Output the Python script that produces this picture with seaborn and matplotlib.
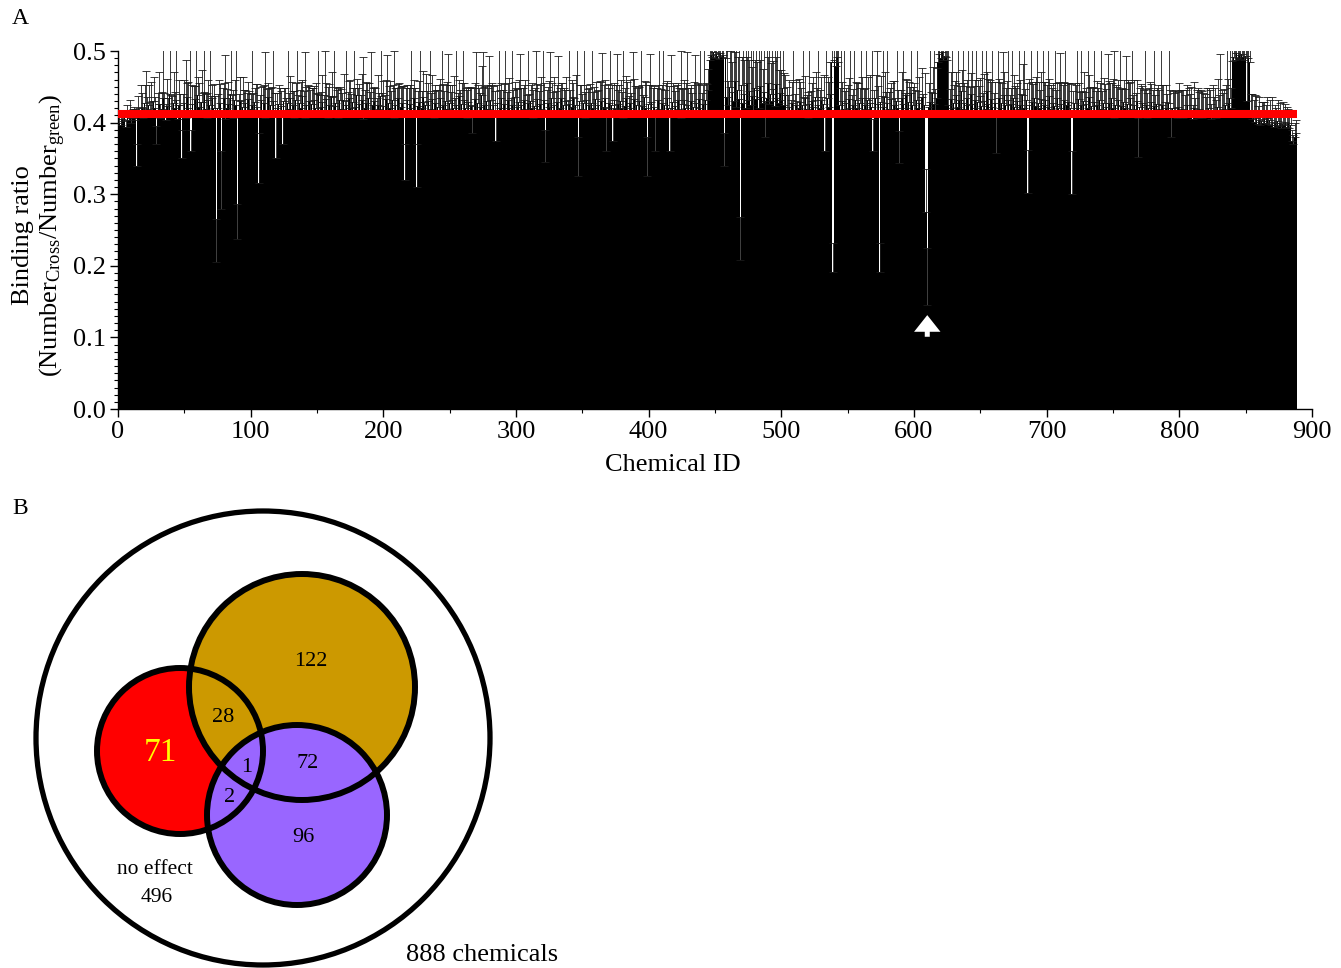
import matplotlib; matplotlib.use('Agg')
import numpy as np
import pandas as pd
import matplotlib.pyplot as plt
from matplotlib.patches import Circle
from matplotlib.ticker import MultipleLocator, FormatStrFormatter
import seaborn as sns

# binding ratio per chemical (x1000), ids 1..888
ratio_k = [
    400, 396, 405, 402, 408, 394, 410, 404, 414, 400, 406, 412, 403, 340, 415, 409, 418, 422, 407, 428, 412, 419, 424, 408,
    417, 410, 430, 421, 370, 414, 426, 407, 419, 435, 411, 404, 423, 417, 440, 412, 408, 428, 420, 432, 405, 424, 412, 350,
    418, 428, 407, 436, 420, 413, 360, 426, 410, 433, 418, 439, 422, 409, 429, 415, 443, 419, 406, 431, 424, 412, 435, 420,
    409, 205, 421, 416, 428, 280, 414, 434, 405, 420, 426, 411, 440, 418, 407, 431, 424, 237, 415, 430, 410, 422, 417, 427,
    412, 433, 408, 419, 425, 414, 429, 409, 422, 315, 416, 432, 411, 427, 406, 418, 436, 413, 424, 409, 430, 416, 350, 420,
    426, 411, 423, 370, 430, 415, 408, 428, 419, 434, 412, 424, 407, 431, 417, 411, 427, 421, 437, 414, 406, 425, 418, 430,
    413, 426, 409, 432, 420, 416, 440, 408, 422, 429, 412, 418, 433, 406, 425, 417, 436, 411, 423, 428, 415, 407, 431, 419,
    417, 431, 409, 425, 414, 435, 420, 408, 429, 416, 422, 439, 410, 426, 418, 432, 405, 421, 427, 413, 434, 416, 409, 424,
    430, 415, 408, 425, 419, 437, 412, 423, 416, 433, 409, 427, 420, 414, 431, 407, 424, 417, 435, 411, 422, 428, 415, 320,
    418, 431, 410, 426, 421, 408, 434, 415, 310, 423, 429, 413, 420, 436, 409, 425, 416, 430, 414, 419, 433, 407, 427, 415,
    422, 411, 435, 417, 425, 409, 430, 419, 414, 428, 412, 432, 420, 408, 424, 416, 437, 410, 426, 415, 431, 421, 406, 429,
    413, 423, 385, 418, 433, 411, 427, 416, 422, 438, 408, 425, 414, 430, 419, 409, 432, 417, 424, 412, 375, 428, 415, 420,
    434, 410, 426, 418, 413, 431, 420, 408, 424, 416, 436, 412, 422, 429, 409, 425, 415, 432, 419, 411, 427, 414, 430, 421,
    407, 423, 417, 433, 412, 426, 419, 409, 431, 345, 415, 428, 422, 411, 435, 417, 425, 413, 429, 408, 420, 434, 414, 424,
    418, 430, 410, 426, 416, 422, 436, 409, 425, 414, 325, 430, 419, 412, 427, 406, 432, 417, 424, 411, 428, 421, 415, 433,
    408, 425, 418, 430, 413, 422, 435, 360, 416, 427, 411, 424, 375, 431, 419, 409, 426, 415, 430, 420, 407, 423, 434, 417,
    412, 428, 421, 410, 433, 416, 425, 408, 430, 418, 423, 413, 436, 420, 325, 426, 411, 429, 415, 422, 360, 409, 431, 419,
    414, 427, 411, 424, 417, 434, 421, 360, 409, 429, 416, 423, 412, 431, 419, 407, 426, 415, 432, 420, 410, 425, 418, 430,
    413, 422, 408, 428, 416, 433, 420, 411, 426, 415, 431, 418, 445, 488, 495, 492, 498, 490, 496, 493, 489, 497, 491, 494,
    340, 490, 436, 425, 450, 418, 443, 430, 458, 422, 446, 433, 208, 452, 427, 440, 420, 455, 432, 444, 424, 437, 416, 449,
    433, 445, 421, 451, 436, 428, 443, 380, 434, 456, 426, 440, 430, 447, 423, 454, 435, 427, 442, 432, 449, 425, 438, 417,
    415, 422, 410, 427, 418, 413, 425, 408, 421, 429, 416, 424, 411, 434, 419, 407, 426, 415, 430, 422, 409, 436, 418, 425,
    420, 431, 414, 426, 360, 417, 435, 422, 440, 485, 192, 488, 479, 492, 484, 425, 416, 430, 419, 412, 427, 415, 433, 421,
    408, 424, 416, 431, 420, 413, 428, 417, 435, 410, 425, 419, 432, 414, 427, 422, 360, 418, 434, 411, 426, 192, 429, 415,
    422, 436, 414, 428, 419, 410, 433, 417, 425, 408, 430, 421, 343, 415, 434, 426, 412, 438, 420, 429, 416, 441, 424, 418,
    415, 432, 420, 427, 409, 436, 418, 424, 275, 145, 422, 429, 415, 441, 426, 417, 434, 485, 496, 490, 499, 487, 493, 491,
    488, 425, 418, 433, 420, 427, 414, 438, 422, 431, 416, 444, 419, 428, 410, 435, 424, 417, 440, 426, 413, 432, 421, 429,
    415, 437, 423, 411, 430, 419, 444, 426, 417, 433, 422, 408, 428, 358, 416, 435, 420, 427, 413, 439, 424, 418, 431, 410,
    426, 417, 434, 422, 409, 430, 419, 425, 413, 438, 421, 416, 432, 302, 424, 410, 429, 418, 435, 423, 412, 427, 420, 433,
    416, 425, 431, 414, 422, 437, 419, 408, 428, 423, 415, 434, 420, 411, 426, 417, 432, 409, 424, 429, 413, 421, 300, 418,
    427, 415, 420, 433, 409, 424, 418, 430, 412, 426, 421, 436, 414, 423, 408, 429, 417, 425, 411, 432, 419, 415, 427, 413,
    422, 410, 428, 417, 434, 420, 407, 425, 415, 431, 418, 423, 412, 429, 421, 408, 426, 416, 435, 419, 411, 424, 417, 430,
    352, 422, 414, 427, 410, 418, 425, 407, 420, 416, 429, 412, 423, 409, 426, 415, 419, 411, 424, 417, 408, 421, 413, 427,
    415, 380, 420, 409, 417, 406, 422, 411, 414, 419, 407, 416, 410, 424, 408, 413, 418, 405, 421, 409, 415, 407, 419, 412,
    406, 417, 410, 414, 408, 420, 412, 405, 416, 409, 418, 407, 422, 413, 408, 415, 419, 410, 425, 417, 428, 434, 421, 486,
    492, 488, 497, 490, 494, 489, 496, 491, 487, 493, 430, 490, 485, 412, 405, 409, 401, 407, 398, 404, 396, 402, 399, 405,
    400, 406, 398, 403, 396, 401, 394, 399, 397, 402, 395, 400, 393, 398, 396, 401, 394, 399, 392, 396, 375, 370, 380, 385,
]

# upper error bar lengths (x1000)
err_k = [
    8, 12, 6, 15, 10, 9, 14, 11, 18, 7, 13, 10, 16, 30, 22, 12, 35, 19, 14, 25, 60, 17, 28, 21,
    40, 20, 33, 15, 25, 27, 45, 19, 24, 90, 31, 22, 38, 18, 95, 26, 29, 42, 23, 85, 20, 35, 28, 40,
    22, 31, 80, 19, 37, 92, 30, 26, 41, 18, 88, 24, 33, 20, 45, 27, 90, 21, 36, 29, 84, 25, 18, 34,
    28, 60, 19, 43, 26, 80, 35, 22, 90, 27, 31, 24, 95, 20, 38, 29, 86, 50, 25, 33, 21, 42, 28, 19,
    30, 24, 36, 21, 88, 27, 19, 45, 32, 70, 23, 18, 40, 26, 92, 29, 20, 35, 24, 41, 87, 25, 60, 22,
    27, 38, 21, 40, 19, 33, 26, 83, 22, 31, 45, 20, 37, 24, 90, 28, 19, 36, 23, 30, 92, 25, 34, 21,
    33, 22, 40, 19, 36, 25, 88, 30, 21, 38, 27, 82, 23, 44, 29, 20, 35, 26, 91, 22, 31, 42, 19, 28,
    24, 37, 21, 85, 29, 23, 40, 32, 19, 94, 26, 22, 39, 28, 20, 36, 87, 25, 30, 43, 21, 27, 90, 24,
    20, 33, 26, 41, 23, 89, 29, 35, 22, 27, 86, 24, 38, 30, 21, 93, 25, 32, 19, 44, 28, 23, 36, 50,
    31, 22, 39, 27, 84, 40, 25, 33, 60, 21, 29, 91, 24, 36, 20, 43, 28, 26, 88, 22, 34, 37, 25, 30,
    23, 41, 26, 90, 29, 35, 22, 38, 82, 24, 31, 20, 45, 27, 93, 25, 22, 36, 30, 86, 24, 28, 39, 21,
    35, 27, 40, 30, 22, 88, 26, 33, 20, 41, 91, 25, 37, 23, 29, 84, 21, 38, 27, 32, 40, 24, 89, 26,
    22, 36, 28, 85, 30, 24, 42, 26, 93, 29, 21, 37, 25, 31, 87, 23, 34, 20, 40, 28, 90, 26, 22, 35,
    38, 25, 83, 21, 32, 27, 44, 92, 24, 45, 30, 22, 36, 88, 20, 26, 39, 31, 23, 85, 28, 21, 41, 25,
    27, 34, 22, 89, 29, 38, 20, 26, 42, 91, 55, 23, 33, 28, 86, 37, 21, 30, 25, 43, 92, 22, 35, 24,
    36, 21, 40, 27, 84, 31, 24, 60, 38, 22, 90, 28, 45, 25, 33, 87, 20, 37, 29, 23, 94, 26, 31, 40,
    25, 32, 21, 88, 28, 35, 24, 43, 20, 92, 30, 26, 22, 37, 55, 27, 85, 23, 34, 29, 50, 40, 21, 89,
    33, 26, 91, 22, 38, 24, 30, 60, 86, 27, 35, 21, 40, 25, 29, 93, 23, 32, 28, 36, 88, 24, 30, 22,
    29, 35, 86, 24, 40, 21, 93, 31, 27, 88, 25, 36, 30, 40, 35, 38, 30, 42, 33, 36, 40, 31, 37, 34,
    45, 35, 90, 33, 50, 88, 42, 91, 40, 86, 45, 92, 60, 39, 87, 48, 94, 36, 89, 44, 90, 41, 85, 38,
    88, 40, 92, 36, 86, 47, 90, 50, 89, 35, 93, 43, 87, 39, 91, 37, 85, 46, 90, 41, 88, 44, 29, 33,
    24, 38, 21, 30, 85, 27, 35, 22, 40, 28, 33, 90, 25, 31, 20, 36, 87, 29, 26, 42, 23, 34, 30, 88,
    26, 33, 22, 41, 50, 89, 28, 35, 44, 30, 40, 33, 38, 31, 36, 24, 90, 27, 85, 32, 21, 37, 29, 91,
    30, 23, 88, 26, 35, 42, 21, 92, 28, 37, 24, 86, 31, 20, 40, 90, 45, 27, 33, 89, 25, 40, 36, 22,
    86, 35, 29, 90, 24, 38, 22, 41, 33, 27, 87, 25, 45, 31, 36, 92, 29, 23, 40, 28, 34, 91, 26, 37,
    30, 88, 24, 36, 27, 40, 22, 45, 60, 80, 33, 89, 28, 37, 85, 30, 42, 35, 30, 38, 31, 36, 33, 35,
    40, 90, 29, 37, 86, 26, 44, 32, 92, 24, 35, 30, 88, 28, 41, 25, 93, 33, 29, 87, 38, 27, 90, 31,
    36, 25, 89, 30, 38, 92, 27, 35, 42, 24, 87, 33, 29, 55, 91, 26, 37, 28, 86, 31, 25, 40, 94, 29,
    23, 88, 33, 29, 40, 26, 91, 35, 27, 44, 86, 31, 24, 60, 37, 93, 28, 36, 22, 41, 89, 30, 25, 38,
    90, 32, 26, 39, 87, 24, 34, 41, 28, 92, 30, 22, 37, 86, 29, 35, 25, 94, 31, 27, 42, 33, 60, 26,
    28, 37, 91, 23, 34, 88, 26, 40, 31, 22, 89, 30, 36, 25, 42, 90, 27, 33, 38, 24, 87, 29, 35, 41,
    25, 86, 30, 38, 22, 41, 93, 27, 35, 29, 88, 24, 37, 31, 26, 85, 33, 40, 22, 92, 28, 36, 24, 30,
    55, 27, 40, 24, 36, 89, 22, 34, 28, 41, 25, 33, 87, 30, 23, 38, 26, 91, 29, 35, 21, 32, 27, 86,
    30, 40, 24, 33, 28, 37, 22, 45, 31, 26, 39, 23, 35, 28, 41, 27, 32, 20, 36, 25, 30, 42, 24, 33,
    38, 25, 30, 22, 40, 28, 34, 21, 36, 27, 31, 24, 39, 26, 88, 30, 23, 37, 28, 85, 33, 90, 27, 35,
    36, 31, 33, 38, 30, 35, 32, 37, 30, 34, 88, 33, 36, 28, 35, 22, 38, 30, 25, 32, 20, 27, 30, 24,
    25, 30, 18, 28, 22, 35, 20, 26, 24, 30, 19, 27, 23, 31, 21, 25, 28, 20, 24, 22, 15, 12, 20, 18,
]

threshold = 0.412
arrow_id = 610

# venn counts
venn_texts = ['122', '28', '71', '1', '72', '2', '96']
no_effect = 496
total = 888

sns.set_style('ticks')
plt.rcParams['font.family'] = ['Liberation Serif', 'DejaVu Serif']
plt.rcParams['mathtext.fontset'] = 'custom'
plt.rcParams['mathtext.rm'] = 'Liberation Serif'
plt.rcParams['mathtext.it'] = 'Liberation Serif:italic'
plt.rcParams['text.color'] = 'black'
plt.rcParams['axes.labelcolor'] = 'black'

df = pd.DataFrame({'id': np.arange(1, len(ratio_k) + 1),
                   'ratio': np.array(ratio_k) / 1000.0,
                   'err': np.array(err_k) / 1000.0})

W, H = 1341, 968
fig = plt.figure(figsize=(W / 100, H / 100), dpi=100)

# ---- panel A ----
ax = fig.add_axes([118 / W, 1 - 409 / H, (1312 - 118) / W, (409 - 51) / H])
sns.barplot(data=df, x='id', y='ratio', native_scale=True, color='black', width=1.0,
            linewidth=0, errorbar=None, saturation=1, ax=ax)
ax.errorbar(df['id'], df['ratio'], yerr=[np.zeros(len(df)), df['err']], fmt='none',
            ecolor='0.1', elinewidth=0.6, capsize=3, capthick=0.6, zorder=3)
ax.hlines(threshold, -1, df['id'].max() + 0.5, color='red', lw=5.8, zorder=5)
ax.annotate('', xy=(arrow_id, 0.135), xytext=(arrow_id, 0.097),
            arrowprops=dict(arrowstyle='simple,head_length=0.6,head_width=0.95,tail_width=0.18',
                            fc='white', ec='none', mutation_scale=20), zorder=6)

ax.set_xlim(0, 900)
ax.set_ylim(0, 0.5)
ax.set_xticks(range(0, 901, 100))
ax.xaxis.set_minor_locator(MultipleLocator(50))
ax.set_yticks(np.arange(0, 0.51, 0.1))
ax.yaxis.set_major_formatter(FormatStrFormatter('%.1f'))
ax.yaxis.set_minor_locator(MultipleLocator(0.01))
ax.tick_params(which='major', direction='out', length=6, width=1, labelsize=19, colors='black', pad=3)
ax.tick_params(which='minor', direction='out', length=3, width=0.8, colors='black')
sns.despine(ax=ax)
for s in ['left', 'bottom']:
    ax.spines[s].set_color('black')
    ax.spines[s].set_linewidth(1)
ax.set_xlabel('Chemical ID', fontsize=19)
ax.xaxis.set_label_coords(0.465, -0.125)
ax.set_ylabel('Binding ratio\n(Number$_{\\mathrm{Cross}}$/Number$_{\\mathrm{green}}$)',
              fontsize=19, linespacing=1.2)
ax.yaxis.set_label_coords(-0.042, 0.486)

fig.text(12 / W, 1 - 18 / H, 'A', fontsize=17, va='center', ha='left')
fig.text(12 / W, 1 - 508 / H, 'B', fontsize=17, va='center', ha='left')

# ---- panel B: venn drawn in pixel space ----
vax = fig.add_axes([0, 0, 1, 1])
vax.set_xlim(0, W)
vax.set_ylim(H, 0)
vax.axis('off')
vax.patch.set_alpha(0)

outer = Circle((263, 738), 227, fill=False, ec='black', lw=3.8)
vax.add_patch(outer)
sets = [((180, 751), 83, '#ff0000'),
        ((302, 687), 113, '#cc9900'),
        ((297, 815), 90, '#9966ff')]
for c, r, col in sets:
    vax.add_patch(Circle(c, r, fc=col, ec='none'))
for c, r, col in sets:
    vax.add_patch(Circle(c, r, fill=False, ec='black', lw=4.3))

text_pos = [(311, 661), (223, 717), (160, 753), (247, 767), (308, 763), (230, 797), (303, 838)]
for t, (x, y) in zip(venn_texts, text_pos):
    if t == '71':
        vax.text(x, y, t, fontsize=24, color='yellow', ha='center', va='center')
    else:
        vax.text(x, y, t, fontsize=16, color='black', ha='center', va='center')
vax.text(155, 869, 'no effect', fontsize=15.5, ha='center', va='center')
vax.text(157, 897, str(no_effect), fontsize=15.5, ha='center', va='center')
vax.text(482, 955, f'{total} chemicals', fontsize=19, ha='center', va='center')

fig.savefig('out.png', dpi=100)
